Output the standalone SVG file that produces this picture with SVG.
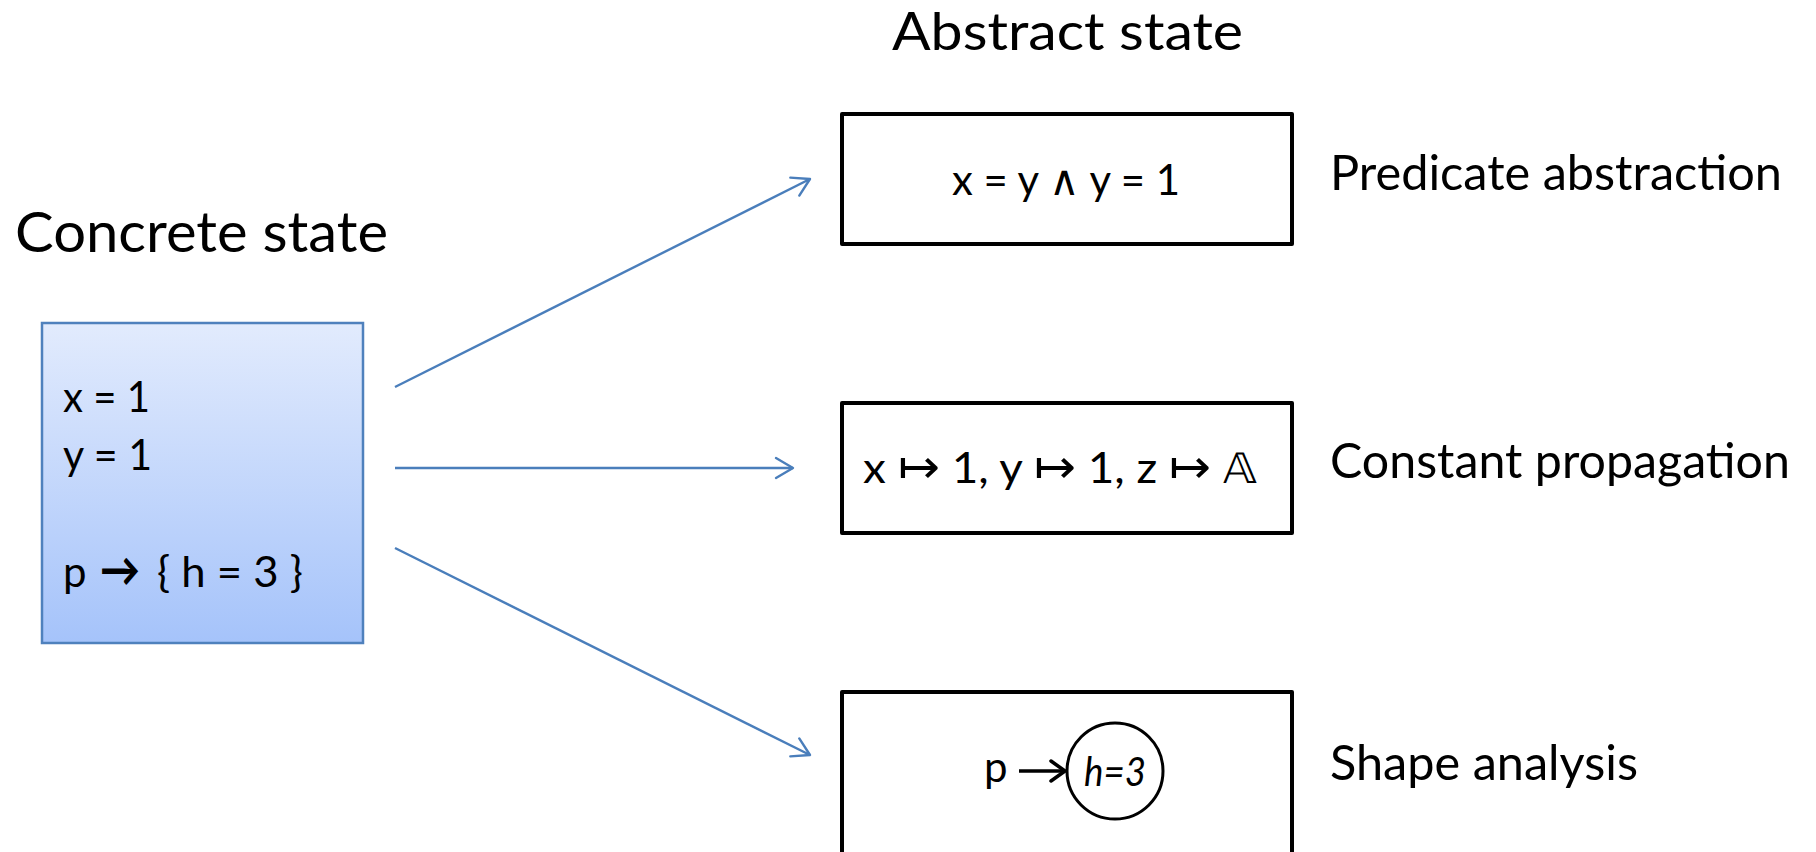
<svg xmlns="http://www.w3.org/2000/svg" width="1816" height="852" viewBox="0 0 1816 852">
<style>
.t{font-family:Lato,"Liberation Sans","DejaVu Sans",sans-serif;fill:#000}
.m{font-family:Lato,"DejaVu Sans","Liberation Sans",sans-serif;fill:#000}
.sym{font-family:"DejaVu Sans",sans-serif;font-weight:200}
.box{fill:#fff;stroke:#000;stroke-width:4;stroke-linejoin:round}
.conn{stroke:#4A7EBB;stroke-width:2.4;fill:none}
</style>
<defs>
<linearGradient id="g" x1="0" y1="0" x2="0" y2="1">
<stop offset="0" stop-color="#E2EBFD"/>
<stop offset="1" stop-color="#A5C3FA"/>
</linearGradient>
<marker id="ah" markerUnits="userSpaceOnUse" viewBox="-20 -12 22 24" refX="0" refY="0" markerWidth="22" markerHeight="24" orient="auto">
<path d="M-17,-10 L0,0 L-17,10" fill="none" stroke="#4A7EBB" stroke-width="2.4" stroke-linecap="round" stroke-linejoin="round"/>
</marker>
<marker id="bh" markerUnits="userSpaceOnUse" viewBox="-16 -12 18 24" refX="0" refY="0" markerWidth="18" markerHeight="24" orient="auto">
<path d="M-14,-10 L0,0 L-14,10" fill="none" stroke="#000" stroke-width="3.5" stroke-linecap="round" stroke-linejoin="round"/>
</marker>
</defs>
<rect width="1816" height="852" fill="#fff"/>

<text class="t" x="15" y="252" font-size="56" textLength="373" lengthAdjust="spacingAndGlyphs">Concrete state</text>
<text class="t" x="892" y="50" font-size="52" textLength="351" lengthAdjust="spacingAndGlyphs">Abstract state</text>

<g id="concrete">
<rect x="42" y="323" width="321" height="320" fill="url(#g)" stroke="#4F81BD" stroke-width="2.5"/>
<text class="t" x="63" y="412" font-size="42" textLength="87" lengthAdjust="spacingAndGlyphs">x = 1</text>
<text class="t" x="63" y="470" font-size="42" textLength="89" lengthAdjust="spacingAndGlyphs">y = 1</text>
<text class="t" x="63" y="587" font-size="42">p</text>
<text class="m" x="100" y="586" font-size="46" font-weight="900" textLength="40" lengthAdjust="spacingAndGlyphs">→</text>
<text class="t" x="157" y="587" font-size="42" textLength="146" lengthAdjust="spacingAndGlyphs">{ h = 3 }</text>
</g>

<g id="predicate">
<rect class="box" x="842" y="114" width="450" height="130"/>
<text class="t" x="952" y="195" font-size="42" textLength="228" lengthAdjust="spacingAndGlyphs">x = y <tspan class="sym" font-size="42">∧</tspan> y = 1</text>
<text class="t" x="1330" y="190" font-size="49" textLength="452" lengthAdjust="spacingAndGlyphs">Predicate abstraction</text>
</g>

<g id="constant">
<rect class="box" x="842" y="403" width="450" height="130"/>
<text class="t" x="863" y="483" font-size="42" textLength="394" lengthAdjust="spacingAndGlyphs">x <tspan class="sym" font-size="46">↦</tspan> 1, y <tspan class="sym" font-size="46">↦</tspan> 1, z <tspan class="sym" font-size="46">↦</tspan> <tspan class="sym">𝔸</tspan></text>
<text class="t" x="1330" y="478" font-size="49" textLength="460" lengthAdjust="spacingAndGlyphs">Constant propagation</text>
</g>

<g id="shape">
<rect class="box" x="842" y="692" width="450" height="200"/>
<text class="t" x="984" y="782" font-size="42">p</text>
<line x1="1019" y1="771" x2="1065" y2="771" stroke="#000" stroke-width="3.5" marker-end="url(#bh)"/>
<circle cx="1115" cy="771" r="48" fill="none" stroke="#000" stroke-width="3"/>
<text class="t" x="1084" y="786" font-size="40" font-style="italic" textLength="62" lengthAdjust="spacingAndGlyphs">h=3</text>
<text class="t" x="1330" y="780" font-size="49" textLength="308" lengthAdjust="spacingAndGlyphs">Shape analysis</text>
</g>

<g id="connectors">
<line class="conn" x1="395" y1="387" x2="810" y2="179" marker-end="url(#ah)"/>
<line class="conn" x1="395" y1="468" x2="793" y2="468" marker-end="url(#ah)"/>
<line class="conn" x1="395" y1="548" x2="810" y2="755" marker-end="url(#ah)"/>
</g>
</svg>
